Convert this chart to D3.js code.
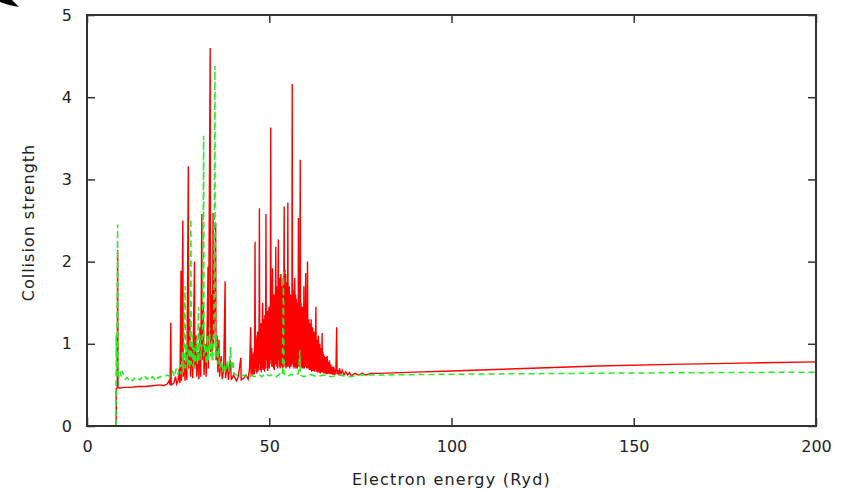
<!DOCTYPE html>
<html><head><meta charset="utf-8">
<script src="https://cdn.jsdelivr.net/npm/d3@7"></script>
<style>
html,body{margin:0;padding:0;background:#fff;}
svg text{font-family:"DejaVu Sans",sans-serif;fill:#222;}
</style></head>
<body>
<svg id="chart" width="852" height="491"></svg>
<script>
// ---- data ----
const xTicks = [0, 50, 100, 150, 200];
const yTicks = [0, 1, 2, 3, 4, 5];
const xLabel = "Electron energy (Ryd)";
const yLabel = "Collision strength";

// red (solid) series: [energy (Ryd), collision strength]
const redSeries = [
 [8.0,0],[8.0,0.45],[8.3,0.46],[8.4,2.14],[8.5,0.47],[9,0.46],[10,0.47],[12,0.47],[14,0.48],[16,0.48],
 [18,0.49],[20,0.5],[21,0.49],[22,0.51],[22.5,0.55],[22.8,0.5],[23.0,1.26],[23.1,0.5],[23.8,0.52],[24.3,0.6],
 [24.6,0.51],[25.0,0.55],[25.3,0.7],[25.5,0.52],[25.8,1.89],[25.9,0.55],[26.3,2.5],[26.4,0.6],[26.7,0.8],[26.9,0.55],
 [27.2,0.9],[27.4,0.56],[27.8,3.16],[27.9,0.7],[28.2,1.3],[28.4,0.6],[28.7,1.0],[29.0,0.58],[29.5,2.0],[29.6,0.7],
 [29.9,1.1],[30.1,0.6],[30.4,0.9],[30.7,0.57],[31.0,1.2],[31.2,0.6],[31.5,2.58],[31.6,0.8],[31.9,1.5],[32.1,0.62],
 [32.4,1.0],[32.7,0.6],[33.0,1.3],[33.2,1.94],[33.3,0.7],[33.8,4.6],[33.9,0.9],[34.2,1.6],[34.4,0.8],[34.6,2.59],
 [34.7,1.0],[35.0,1.4],[35.3,2.47],[35.4,0.8],[35.7,1.1],[35.9,0.65],[36.2,1.05],[36.4,0.6],[36.8,0.85],[37.1,0.57],
 [37.5,0.7],[37.9,1.76],[38.0,0.58],[38.5,0.75],[38.8,0.56],[39.3,0.8],[39.6,0.56],[40.2,0.62],[41.0,0.55],[41.5,0.6],
 [42.2,0.83],[42.3,0.56],[43.0,0.58],[43.6,0.62],[44.2,0.57],[44.6,0.7],[44.9,1.2],[45.0,0.6],
 [45.1,0.8],[45.2,0.95],[45.3,0.64],[45.4,0.85],[45.5,0.62],[45.6,0.88],[45.7,0.65],[45.8,0.9],[45.9,0.63],[46.0,1.0],
 [46.1,2.24],[46.2,0.7],[46.3,1.1],[46.4,0.66],[46.5,1.05],[46.6,0.64],[46.7,1.0],[46.8,1.15],[46.9,0.66],[47.0,1.1],
 [47.1,0.68],[47.2,1.2],[47.3,2.65],[47.4,0.75],[47.5,1.2],[47.6,0.68],[47.7,1.25],[47.8,0.65],[47.9,1.15],[48.0,0.7],
 [48.1,1.3],[48.2,1.5],[48.3,0.68],[48.4,1.25],[48.5,0.7],[48.6,1.3],[48.7,0.66],[48.8,1.35],[48.9,0.7],[49.0,1.2],
 [49.1,2.58],[49.2,0.8],[49.3,1.35],[49.4,0.7],[49.5,1.4],[49.6,0.67],[49.7,1.3],[49.8,0.72],[49.9,1.45],[50.0,0.7],
 [50.1,1.4],[50.2,0.75],[50.3,1.45],[50.4,3.63],[50.5,0.8],[50.6,1.5],[50.7,0.72],[50.8,1.55],[50.9,1.92],[51.0,0.72],
 [51.1,1.5],[51.2,0.7],[51.3,1.6],[51.4,0.68],[51.5,1.55],[51.6,0.75],[51.7,1.6],[51.8,2.18],[51.9,0.75],[52.0,1.7],
 [52.1,0.72],[52.2,1.65],[52.3,0.7],[52.4,1.75],[52.5,2.27],[52.6,0.8],[52.7,1.7],[52.8,0.72],[52.9,1.8],[53.0,0.7],
 [53.1,1.75],[53.2,1.85],[53.3,0.74],[53.4,1.7],[53.5,0.72],[53.6,1.65],[53.7,0.7],[53.8,1.8],[53.9,0.72],[54.0,1.75],
 [54.1,2.67],[54.2,0.8],[54.3,1.9],[54.4,0.72],[54.5,1.85],[54.6,0.7],[54.7,1.7],[54.8,0.74],[54.9,1.75],[55.0,0.72],
 [55.1,2.72],[55.2,0.75],[55.3,1.65],[55.4,0.72],[55.5,1.7],[55.6,0.7],[55.7,1.6],[55.8,0.74],[55.9,1.55],[56.0,0.72],
 [56.1,1.6],[56.2,0.75],[56.3,4.16],[56.4,0.8],[56.5,1.65],[56.6,0.72],[56.7,1.6],[56.8,0.7],[56.9,1.7],[57.0,1.8],
 [57.1,0.72],[57.2,1.6],[57.3,0.7],[57.4,1.55],[57.5,0.72],[57.6,1.5],[57.7,0.7],[57.8,1.45],[57.9,0.72],[58.0,2.53],
 [58.1,0.75],[58.2,1.5],[58.3,0.72],[58.4,1.45],[58.5,3.24],[58.6,0.8],[58.7,1.5],[58.8,0.72],[58.9,1.45],[59.0,0.7],
 [59.1,1.4],[59.2,0.72],[59.3,1.45],[59.4,0.7],[59.5,1.7],[59.6,0.7],[59.7,1.35],[59.8,0.72],[59.9,1.4],[60.0,1.86],
 [60.1,0.72],[60.2,1.3],[60.3,0.7],[60.4,1.35],[60.5,2.0],[60.6,0.7],[60.7,1.25],[60.8,0.72],[60.9,1.3],[61.0,0.68],
 [61.1,1.2],[61.2,0.7],[61.3,1.25],[61.4,0.68],[61.5,1.3],[61.6,0.66],[61.7,1.15],[61.8,0.7],[61.9,1.2],[62.0,0.67],
 [62.1,1.1],[62.2,0.68],[62.3,1.15],[62.4,0.66],[62.5,1.05],[62.6,0.68],[62.7,1.1],[62.8,1.45],[62.9,0.66],[63.0,1.05],
 [63.1,0.68],[63.2,1.0],[63.3,0.65],[63.4,1.05],[63.5,1.1],[63.6,0.65],[63.7,0.95],[63.8,0.66],[63.9,1.0],[64.0,0.64],
 [64.1,0.95],[64.2,0.66],[64.3,0.9],[64.4,0.65],[64.5,1.13],[64.6,0.65],[64.7,0.9],[64.8,0.66],[64.9,0.88],[65.0,0.64],
 [65.1,0.85],[65.2,0.65],[65.3,0.82],[65.4,0.64],[65.5,0.84],[65.6,0.63],[65.7,0.8],[65.8,0.64],[65.9,0.85],[66.0,0.63],
 [66.2,0.78],[66.4,0.64],[66.5,0.8],[66.7,0.63],[66.9,0.75],[67.1,0.63],[67.3,0.72],[67.5,0.62],[67.7,0.72],[68.0,0.62],
 [68.3,0.7],[68.5,1.2],[68.6,0.63],[68.8,0.68],[69.0,0.62],[69.3,0.7],[69.6,0.62],[70.0,0.68],[70.5,0.62],[71.0,0.66],
 [71.5,0.62],[72.0,0.65],[72.5,0.61],[73.5,0.64],[74.5,0.62],[75.5,0.64],[76.5,0.62],[78,0.64],[80,0.64],[90,0.655],
 [100,0.67],[120,0.7],[140,0.73],[160,0.75],[180,0.765],[200,0.78]
];

// green (dashed) series: [energy (Ryd), collision strength]
const greenSeries = [
 [8.0,0],[8.0,1.1],[8.15,0.6],[8.4,2.45],[8.5,0.62],[8.8,0.6],[9.1,0.66],[9.4,0.6],[9.7,0.67],[10.0,0.62],
 [10.5,0.57],[11,0.59],[11.5,0.56],[12,0.58],[12.5,0.55],[13,0.58],[13.5,0.57],[14,0.59],[14.5,0.56],[15,0.59],
 [15.5,0.57],[16,0.6],[16.5,0.57],[17,0.6],[17.5,0.58],[18,0.6],[18.5,0.57],[19,0.61],[19.5,0.58],[20,0.6],
 [21,0.59],[22,0.62],[23,0.6],[23.5,0.66],[24,0.6],[24.5,0.7],[25,0.62],[25.5,0.75],[25.8,0.63],
 [26.2,0.9],[26.5,0.65],[26.9,1.7],[27.0,0.7],[27.3,1.0],[27.6,0.68],[28.0,0.95],[28.2,0.7],[28.5,2.52],[28.6,0.75],
 [28.9,1.1],[29.1,0.72],[29.4,0.95],[29.7,0.7],[30.0,1.05],[30.3,0.75],[30.6,1.45],[30.7,0.78],[31.0,1.1],[31.3,0.8],
 [31.7,1.2],[32.0,3.53],[32.1,0.85],[32.4,1.0],[32.7,0.75],[33.0,1.1],[33.3,0.8],[33.6,1.2],[33.9,0.85],[34.2,1.05],
 [34.5,0.8],[34.8,1.3],[35.1,4.38],[35.2,0.85],[35.5,1.1],[35.8,0.75],[36.1,0.95],[36.4,0.7],[36.8,0.8],[37.2,0.66],
 [37.6,0.75],[38.0,0.65],[38.5,0.8],[38.9,0.66],[39.4,0.96],[39.6,0.68],[40.0,0.8],[40.3,0.64],[41,0.62],[42,0.6],
 [43,0.62],[44,0.6],[45,0.62],[46,0.6],[47,0.63],[48,0.6],[49,0.64],[50,0.61],[51,0.63],[52,0.6],
 [53,0.64],[53.6,0.62],[53.9,1.88],[54.0,0.64],[55,0.6],[56,0.63],[57,0.61],[58.0,0.64],[58.4,0.92],[58.5,0.62],
 [59.5,0.6],[61,0.63],[63,0.6],[65,0.62],[67,0.6],[69,0.62],[72,0.6],[75,0.62],[80,0.62],[100,0.63],
 [150,0.645],[200,0.655]
];

// ---- layout ----
const M = {left: 87, right: 816, top: 15, bottom: 426};
const svg = d3.select("#chart");
const x = d3.scaleLinear().domain([0, 200]).range([M.left, M.right]);
const y = d3.scaleLinear().domain([0, 5]).range([M.bottom, M.top]);

// corner artifact
svg.append("path").attr("d", "M0,0 L12,0 L19,7 L9,5 L0,2 Z").attr("fill", "#000");

// clip
svg.append("defs").append("clipPath").attr("id", "clip")
  .append("rect").attr("x", M.left).attr("y", M.top)
  .attr("width", M.right - M.left).attr("height", M.bottom - M.top);

const line = d3.line().x(d => x(d[0])).y(d => y(d[1]));

const g = svg.append("g").attr("clip-path", "url(#clip)");
g.append("path").datum(redSeries).attr("d", line)
  .attr("fill", "none").attr("stroke", "#ff0000").attr("stroke-width", 1.4)
  .attr("stroke-linejoin", "miter");
g.append("path").datum(greenSeries).attr("d", line)
  .attr("fill", "none").attr("stroke", "#22ee22").attr("stroke-width", 1.5)
  .attr("stroke-dasharray", "6,4");

// axes (ticks inward, mirrored)
const tickLen = 8;
const axStyle = sel => {
  sel.select(".domain").remove();
  sel.selectAll(".tick line").attr("stroke", "#333").attr("stroke-width", 1.5);
  sel.selectAll(".tick text").attr("font-size", 16).attr("fill", "#222")
    .attr("font-family", "DejaVu Sans, sans-serif");
};
svg.append("g").attr("transform", `translate(0,${M.bottom})`)
  .call(d3.axisBottom(x).tickValues(xTicks).tickSize(-tickLen).tickPadding(15).tickFormat(d3.format("d")))
  .call(axStyle);
svg.append("g").attr("transform", `translate(0,${M.top})`)
  .call(d3.axisTop(x).tickValues(xTicks).tickSize(-tickLen).tickFormat(""))
  .call(axStyle);
svg.append("g").attr("transform", `translate(${M.left},0)`)
  .call(d3.axisLeft(y).tickValues(yTicks).tickSize(-tickLen).tickPadding(15).tickFormat(d3.format("d")))
  .call(axStyle);
svg.append("g").attr("transform", `translate(${M.right},0)`)
  .call(d3.axisRight(y).tickValues(yTicks).tickSize(-tickLen).tickFormat(""))
  .call(axStyle);

// frame
svg.append("rect").attr("x", M.left).attr("y", M.top)
  .attr("width", M.right - M.left).attr("height", M.bottom - M.top)
  .attr("fill", "none").attr("stroke", "#333").attr("stroke-width", 2);

// axis titles
svg.append("text").attr("x", (M.left + M.right) / 2).attr("y", 485)
  .attr("text-anchor", "middle").attr("font-size", 16).attr("letter-spacing", 1.2)
  .text(xLabel);
svg.append("text").attr("transform", `translate(34,${(M.top + M.bottom) / 2 + 2}) rotate(-90)`)
  .attr("text-anchor", "middle").attr("font-size", 16).attr("letter-spacing", 1)
  .text(yLabel);
</script>
</body></html>
